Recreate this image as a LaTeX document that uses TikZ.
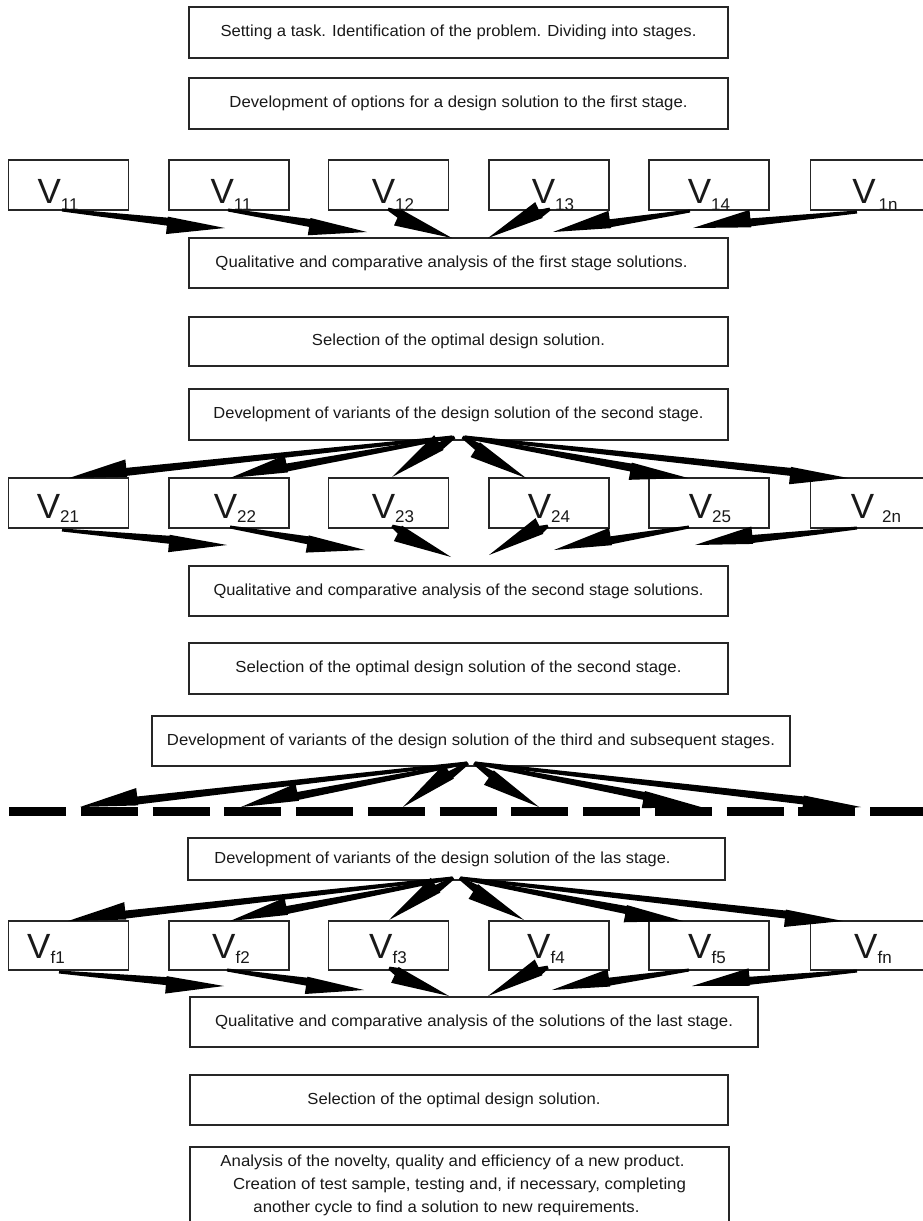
\documentclass[tikz,border=0pt]{standalone}
\usepackage{fontspec}
\setmainfont{Liberation Sans}
\usetikzlibrary{calc}
\newcommand\bt[2]{\resizebox{#1}{\height}{#2}}
\newcommand\fahl{58pt}
\newcommand\fatw{1.5pt}
\newcommand\fasw{4pt}
\newcommand\fahwl{5pt}
\newcommand\fahwr{12.5pt}
\newcommand\fatarr[2]{%
  \coordinate (FAt) at (#1);
  \coordinate (FAp) at (#2);
  \coordinate (FAb) at ($(FAp)!\fahl!(FAt)$);
  \fill[arrowfill] ($(FAt)!\fatw!90:(FAp)$) -- ($(FAb)!\fasw!90:(FAp)$) -- ($(FAb)!\fahwl!90:(FAp)$) -- (FAp)
     -- ($(FAb)!\fahwr!-90:(FAp)$) -- ($(FAb)!\fasw!-90:(FAp)$) -- ($(FAt)!\fatw!-90:(FAp)$) -- cycle;
}
\newcommand\vl[3]{V\kern#3\raisebox{#2}{\fontsize{17}{17}\selectfont #1}}
\tikzset{
  box/.style={draw=black!85, line width=1.4pt, inner sep=0pt, outer sep=0pt, text=black!90,
    font=\fontsize{16}{23}\selectfont, minimum width=539pt, minimum height=50pt, align=center},
  vbox/.style={draw=black!85, line width=1.4pt, inner sep=0pt, outer sep=0pt,
    minimum width=120pt, minimum height=50pt},
  vlab/.style={anchor=base, inner sep=0pt, text=black!90, font=\fontsize{35}{35}\selectfont},
  arrowfill/.style={fill=black},
  dashrule/.style={line width=9pt, dash pattern=on 57pt off 14.75pt, black}
}
\begin{document}
\begin{tikzpicture}[x=1pt, y=-1pt]
\useasboundingbox (0,0) rectangle (923,1221);
\fill[white] (0,0) rectangle (923,1221);

% main boxes
\node[box, minimum height=51pt] (b1) at (458.5,32.5) {\bt{476pt}{Setting a task. Identification of the problem. Dividing into stages.}};
\node[box, minimum height=51pt] (b2) at (458.5,103.5) {\bt{458pt}{Development of options for a design solution to the first stage.}};
\node[box] (q1) at (458.5,263) {\bt{472pt}{Qualitative and comparative analysis of the first stage solutions.}\hspace*{14pt}};
\node[box, minimum height=49pt] (s1) at (458.5,341.5) {\bt{293pt}{Selection of the optimal design solution.}};
\node[box, minimum height=51pt] (d2) at (458.5,414.5) {\bt{490pt}{Development of variants of the design solution of the second stage.}};
\node[box] (q2) at (458.5,591) {\bt{490pt}{Qualitative and comparative analysis of the second stage solutions.}};
\node[box, minimum height=51pt] (s2) at (458.5,668.5) {\bt{446pt}{Selection of the optimal design solution of the second stage.}};
\node[box, minimum width=638pt] (d3) at (471,741) {\bt{608pt}{Development of variants of the design solution of the third and subsequent stages.}};
\node[box, minimum width=537pt, minimum height=42pt] (d4) at (456.5,859) {\bt{456pt}{Development of variants of the design solution of the las stage.}\hspace*{28pt}};
\node[box, minimum width=568pt] (q3) at (474,1022) {\bt{518pt}{Qualitative and comparative analysis of the solutions of the last stage.}};
\node[box, minimum width=538pt] (s3) at (459,1100) {\bt{293pt}{Selection of the optimal design solution.}\hspace*{10pt}};
\node[box, minimum width=539pt, minimum height=76pt] (an) at (459.5,1185)
  {\bt{464pt}{Analysis of the novelty, quality and efficiency of a new product.}\hspace*{14pt}\\
   \bt{453pt}{Creation of test sample, testing and, if necessary, completing}\hspace*{16pt}\\
   \bt{386pt}{another cycle to find a solution to new requirements.}\hspace*{26pt}};

% V rows
\foreach \n/\cx in {1/68.5,2/229,3/388.5,4/549,5/709,6/870.5}{
  \node[vbox] (v1\n) at (\cx,185) {};
  \node[vbox] (v2\n) at (\cx,503) {};
  \node[vbox, minimum height=49pt] (vf\n) at (\cx,945.5) {};
}
\node[vlab] (l11) at (58,203) {\vl{11}{-7pt}{0pt}};
\node[vlab] (l12) at (231,203) {\vl{11}{-7pt}{0pt}};
\node[vlab] (l13) at (393,203) {\vl{12}{-7pt}{0pt}};
\node[vlab] (l14) at (553,203) {\vl{13}{-7pt}{0pt}};
\node[vlab] (l15) at (709,203) {\vl{14}{-7pt}{0pt}};
\node[vlab] (l16) at (875,203) {\vl{1n}{-7pt}{3pt}};

\node[vlab] (l21) at (58,518) {\vl{21}{-4pt}{0pt}};
\node[vlab] (l22) at (235,518) {\vl{22}{-4pt}{0pt}};
\node[vlab] (l23) at (393,518) {\vl{23}{-4pt}{0pt}};
\node[vlab] (l24) at (549,518) {\vl{24}{-4pt}{0pt}};
\node[vlab] (l25) at (710,518) {\vl{25}{-4pt}{0pt}};
\node[vlab] (l26) at (876,518) {\vl{2n}{-4pt}{8pt}};

\node[vlab] (lf1) at (46,958) {\vl{f1}{-5pt}{0pt}};
\node[vlab] (lf2) at (231,958) {\vl{f2}{-5pt}{0pt}};
\node[vlab] (lf3) at (388,958) {\vl{f3}{-5pt}{0pt}};
\node[vlab] (lf4) at (546,958) {\vl{f4}{-5pt}{0pt}};
\node[vlab] (lf5) at (707,958) {\vl{f5}{-5pt}{0pt}};
\node[vlab] (lf6) at (873,958) {\vl{fn}{-5pt}{0pt}};

% dashed rule
\coordinate (dl) at (9,811.5);
\coordinate (dr) at (935,811.5);
\draw[dashrule] (dl) -- (dr);
\coordinate (e1) at (80,807);
\coordinate (e2) at (241,807);
\coordinate (e3) at (403,807);
\coordinate (e4) at (539,807);
\coordinate (e5) at (701,807);
\coordinate (e6) at (861,807);

% row 1 -> q1
\fatarr{$(v11.south)+(-6.5,0)$}{$(q1.north)+(-233.5,-10)$}
\fatarr{$(v12.south)+(-1,0)$}{$(q1.north)+(-91.5,-6)$}
\fatarr{$(v13.south)+(-0.5,-1)$}{$(q1.north)+(-6.5,0)$}
\fatarr{$(v14.south)+(1,-1)$}{$(q1.north)+(29.5,0)$}
\fatarr{$(v15.south)+(-19,1)$}{$(q1.north)+(94.5,-6)$}
\fatarr{$(v16.south)+(-13.5,2)$}{$(q1.north)+(234.5,-10)$}

% d2 -> row 2
\fatarr{$(d2.south)+(-6,-3)$}{$(v21.north)+(0.5,0)$}
\fatarr{$(d2.south)+(-6,-3)$}{$(v22.north)+(1,0)$}
\fatarr{$(d2.south)+(-4,-3)$}{$(v23.north)+(3.5,-1)$}
\fatarr{$(d2.south)+(4,-3)$}{$(v24.north)+(-23,0)$}
\fatarr{$(d2.south)+(6,-3)$}{$(v25.north)+(-21,0)$}
\fatarr{$(d2.south)+(6,-3)$}{$(v26.north)+(-22.5,0)$}

% row 2 -> q2
\fatarr{$(v21.south)+(-6.5,2)$}{$(q2.north)+(-231.5,-21)$}
\fatarr{$(v22.south)+(1,-1)$}{$(q2.north)+(-93.5,-16)$}
\fatarr{$(v23.south)+(3.5,-2)$}{$(q2.north)+(-7.5,-9)$}
\fatarr{$(v24.south)+(-1,-2)$}{$(q2.north)+(30.5,-11)$}
\fatarr{$(v25.south)+(-20,-1)$}{$(q2.north)+(95.5,-16)$}
\fatarr{$(v26.south)+(-13.5,0)$}{$(q2.north)+(236.5,-21)$}

% d3 -> dashed rule
\fatarr{$(d3.south)+(-4,-3)$}{e1}
\fatarr{$(d3.south)+(-4,-3)$}{e2}
\fatarr{$(d3.south)+(-3,-3)$}{e3}
\fatarr{$(d3.south)+(3,-3)$}{e4}
\fatarr{$(d3.south)+(4,-3)$}{e5}
\fatarr{$(d3.south)+(4,-3)$}{e6}

% d4 -> row f
\fatarr{$(d4.south)+(-4,-2)$}{$(vf1.north)+(-0.5,0)$}
\fatarr{$(d4.south)+(-4,-2)$}{$(vf2.north)+(1,0)$}
\fatarr{$(d4.south)+(-3,-2)$}{$(vf3.north)+(0.5,-1)$}
\fatarr{$(d4.south)+(3,-2)$}{$(vf4.north)+(-25,-1)$}
\fatarr{$(d4.south)+(4,-2)$}{$(vf5.north)+(-26,0)$}
\fatarr{$(d4.south)+(4,-2)$}{$(vf6.north)+(-27.5,0)$}

% row f -> q3
\fatarr{$(vf1.south)+(-9.5,2)$}{$(q3.north)+(-250,-11)$}
\fatarr{$(vf2.south)+(-2,0)$}{$(q3.north)+(-110,-7)$}
\fatarr{$(vf3.south)+(0.5,-2)$}{$(q3.north)+(-25,-1)$}
\fatarr{$(vf4.south)+(-1,-3)$}{$(q3.north)+(14,-1)$}
\fatarr{$(vf5.south)+(-20,0)$}{$(q3.north)+(78,-7)$}
\fatarr{$(vf6.south)+(-13.5,1)$}{$(q3.north)+(218,-11)$}
\end{tikzpicture}
\end{document}
